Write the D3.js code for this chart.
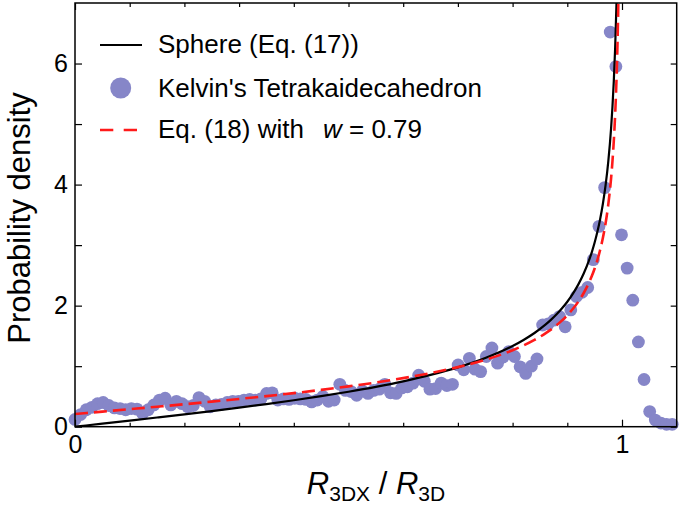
<!DOCTYPE html>
<html><head><meta charset="utf-8">
<script src="https://cdn.jsdelivr.net/npm/d3@7/dist/d3.min.js"></script>
<style>
body{margin:0;background:#fff}
text{font-family:"Liberation Sans",Arial,Helvetica,sans-serif;fill:#000}
</style>
</head><body>
<script>
// ---- data ----
const pointX = [0,0.0103,0.0206,0.0309,0.0412,0.0515,0.0618,0.0721,0.0824,0.0927,
0.103,0.1133,0.1236,0.1339,0.1442,0.1545,0.1648,0.1751,0.1854,0.1957,
0.206,0.2163,0.2266,0.2369,0.2472,0.2575,0.2678,0.2781,0.2884,0.2987,
0.309,0.3193,0.3296,0.3399,0.3502,0.3605,0.3708,0.3811,0.3914,0.4017,
0.412,0.4223,0.4326,0.4429,0.4532,0.4635,0.4738,0.4841,0.4944,0.5047,
0.515,0.5253,0.5356,0.5459,0.5562,0.5665,0.5768,0.5871,0.5974,0.6077,
0.618,0.6283,0.6386,0.6489,0.6592,0.6695,0.6798,0.6901,0.7004,0.7107,
0.721,0.7313,0.7416,0.7519,0.7622,0.7725,0.7828,0.7931,0.8034,0.8137,
0.824,0.8343,0.8446,0.8549,0.8652,0.8755,0.8858,0.8961,0.9064,0.9167,
0.927,0.9373,0.9476,0.9579,0.9682,0.9785,0.9888,0.9991,1.0094,1.0197,
1.03,1.0403,1.0506,1.0609,1.0712,1.0815,1.0918];
const pointY = [0.12,0.20,0.28,0.32,0.38,0.40,0.35,0.31,0.30,0.28,
0.30,0.29,0.22,0.28,0.36,0.44,0.47,0.36,0.42,0.38,
0.33,0.35,0.48,0.42,0.33,0.36,0.37,0.40,0.42,0.42,
0.44,0.45,0.44,0.46,0.55,0.56,0.44,0.46,0.45,0.47,
0.46,0.45,0.41,0.44,0.50,0.42,0.44,0.70,0.60,0.58,
0.52,0.59,0.55,0.60,0.62,0.70,0.56,0.55,0.64,0.66,
0.72,0.85,0.75,0.62,0.63,0.72,0.68,0.70,1.02,0.94,
1.13,0.95,0.91,1.16,1.30,1.05,1.15,1.24,1.16,0.99,
0.88,1.00,1.12,1.68,1.70,1.76,1.82,1.65,1.93,2.15,
2.22,2.30,2.76,3.31,3.95,6.52,5.95,3.17,2.62,2.09,
1.40,0.78,0.25,0.11,0.06,0.04,0.04];

const sphereX = [0,0.05,0.1,0.15,0.2,0.25,0.3,0.35,0.4,0.45,0.5,0.55,0.6,0.65,0.7,0.75,0.8,0.82,0.84,0.86,0.87,0.88,0.89,0.9,0.91,0.92,0.93,0.94,0.945,0.95,0.955,0.96,0.965,0.97,0.975,0.98,0.9825,0.985,0.9875,0.99];
const sphereY = [0,0.0501,0.1005,0.1517,0.2041,0.2582,0.3145,0.3736,0.4364,0.5039,0.5774,0.6586,0.75,0.8553,0.9802,1.1339,1.3333,1.4327,1.5481,1.6853,1.7645,1.8527,1.9519,2.0647,2.1948,2.3474,2.5302,2.7552,2.8893,3.0424,3.2197,3.4286,3.6800,3.9901,4.3880,4.9247,5.2750,5.7085,6.2650,7.0179];

const eq18X = [0,0.05,0.1,0.15,0.2,0.25,0.3,0.35,0.4,0.45,0.5,0.55,0.6,0.65,0.7,0.75,0.8,0.82,0.84,0.86,0.87,0.88,0.89,0.9,0.91,0.92,0.93,0.94,0.945,0.95,0.955,0.96,0.965,0.97,0.975,0.98,0.9825,0.985,0.9875,0.99,0.9925,0.9935];
const eq18Y = [0.21,0.2496,0.2894,0.3298,0.3712,0.4140,0.4585,0.5051,0.5548,0.6081,0.6661,0.7303,0.8025,0.8857,0.9844,1.1058,1.2633,1.3418,1.4330,1.5414,1.6040,1.6736,1.7520,1.8411,1.9439,2.0644,2.2089,2.3866,2.4925,2.6135,2.7536,2.9186,3.1170,3.3622,3.6765,4.1005,4.3773,4.7197,5.1594,5.7541,6.624,7.105];

const xMajorTicks = [0, 1];
const xTickLabels = ["0", "1"];
const xMinorTicks = [0.1,0.2,0.3,0.4,0.5,0.6,0.7,0.8,0.9];
const yMajorTicks = [0, 2, 4, 6];
const yTickLabels = ["0", "2", "4", "6"];
const yMinorTicks = [1, 3, 5];
const legendLabels = ["Sphere (Eq. (17))", "Kelvin's Tetrakaidecahedron", "Eq. (18) with"];

// ---- layout ----
const W = 685, H = 507;
const L = 75, R = 676.7, T = 3, B = 426.7;
const ptColor = "#8686c8";

const svg = d3.select("body").append("svg").attr("width", W).attr("height", H);
const x = d3.scaleLinear().domain([0, 1.1]).range([L, R]);
const y = d3.scaleLinear().domain([0, 7]).range([B, T]);

svg.append("defs").append("clipPath").attr("id","clip")
  .append("rect").attr("x",L).attr("y",T).attr("width",R-L).attr("height",B-T);

// points
const pts = pointX.map((v,i)=>({x:v,y:pointY[i]}));
svg.append("g").selectAll("circle").data(pts).join("circle")
  .attr("cx", d=>x(d.x)).attr("cy", d=>y(d.y)).attr("r", 6.4).attr("fill", ptColor);

// curves
const line = d3.line().x(d=>x(d.x)).y(d=>y(d.y)).curve(d3.curveMonotoneX);
const gl = svg.append("g").attr("clip-path","url(#clip)");
gl.append("path").datum(sphereX.map((v,i)=>({x:v,y:sphereY[i]})))
  .attr("d", line).attr("fill","none").attr("stroke","#000").attr("stroke-width",2.2);
gl.append("path").datum(eq18X.map((v,i)=>({x:v,y:eq18Y[i]})))
  .attr("d", line).attr("fill","none").attr("stroke","#ff1a1a").attr("stroke-width",2.6)
  .attr("stroke-dasharray","13,6");

// axes (ticks inward on all four sides)
function styleAxis(g){ g.select(".domain").remove(); g.selectAll("line").attr("stroke","#000").attr("stroke-width",1.2); g.selectAll("text").style("font-size","25px").attr("fill","#000").style("font-family",'"Liberation Sans",Arial,sans-serif'); }
svg.append("g").attr("transform",`translate(0,${B})`)
  .call(d3.axisBottom(x).tickValues(xMajorTicks).tickSize(-7).tickPadding(9).tickFormat((d,i)=>xTickLabels[i])).call(styleAxis);
svg.append("g").attr("transform",`translate(0,${B})`)
  .call(d3.axisBottom(x).tickValues(xMinorTicks).tickSize(-4).tickFormat("")).call(styleAxis);
svg.append("g").attr("transform",`translate(0,${T})`)
  .call(d3.axisTop(x).tickValues(xMajorTicks).tickSize(-7).tickFormat("")).call(styleAxis);
svg.append("g").attr("transform",`translate(0,${T})`)
  .call(d3.axisTop(x).tickValues(xMinorTicks).tickSize(-4).tickFormat("")).call(styleAxis);
svg.append("g").attr("transform",`translate(${L},0)`)
  .call(d3.axisLeft(y).tickValues(yMajorTicks).tickSize(-7).tickPadding(7).tickFormat((d,i)=>yTickLabels[i])).call(styleAxis);
svg.append("g").attr("transform",`translate(${L},0)`)
  .call(d3.axisLeft(y).tickValues(yMinorTicks).tickSize(-7).tickFormat("")).call(styleAxis);
svg.append("g").attr("transform",`translate(${R},0)`)
  .call(d3.axisRight(y).tickValues(yMajorTicks.concat(yMinorTicks)).tickSize(-6).tickFormat("")).call(styleAxis);

// frame
svg.append("rect").attr("x",L).attr("y",T).attr("width",R-L).attr("height",B-T)
  .attr("fill","none").attr("stroke","#000").attr("stroke-width",1.5);

// axis titles
svg.append("text").attr("transform","translate(30,218) rotate(-90)")
  .attr("text-anchor","middle").style("font-size","31px").text("Probability density");
const xl = svg.append("text").attr("x",376).attr("y",494).attr("text-anchor","middle").style("font-size","31px");
xl.append("tspan").style("font-style","italic").text("R");
xl.append("tspan").attr("dy",7).style("font-size","21px").text("3DX");
xl.append("tspan").attr("dy",-7).text(" / ");
xl.append("tspan").style("font-style","italic").text("R");
xl.append("tspan").attr("dy",7).style("font-size","21px").text("3D");

// legend
const lg = svg.append("g");
lg.append("line").attr("x1",100).attr("x2",142).attr("y1",45).attr("y2",45).attr("stroke","#000").attr("stroke-width",2.2);
lg.append("circle").attr("cx",120.7).attr("cy",88).attr("r",10.5).attr("fill",ptColor);
lg.append("line").attr("x1",100).attr("x2",137).attr("y1",130).attr("y2",130).attr("stroke","#ff1a1a").attr("stroke-width",2.6).attr("stroke-dasharray","13.3,10.4");
const ly = [53, 97, 138];
legendLabels.forEach((t,i)=>{
  lg.append("text").attr("x",158).attr("y",ly[i]).style("font-size","26px").text(t);
});
const wt = lg.append("text").attr("x",323).attr("y",ly[2]).style("font-size","26px");
wt.append("tspan").style("font-style","italic").text("w");
wt.append("tspan").text(" = 0.79");
</script>
</body></html>
